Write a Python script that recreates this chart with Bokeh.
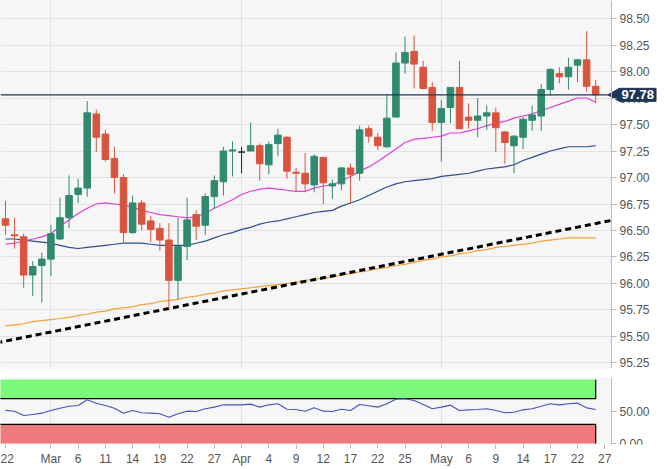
import math
import pandas as pd
from bokeh.plotting import figure
from bokeh.layouts import column
from bokeh.models import (ColumnDataSource, FixedTicker, PrintfTickFormatter, Grid,
                          Label, LinearAxis, BoxAnnotation)
from bokeh.embed import file_html
from bokeh.resources import INLINE

# daily candles, US dollar index, 2019-02-22 .. 2019-05-24 (weekdays)
start_day = "2019-02-22"
opens = [96.61, 96.46, 96.44, 96.08, 96.17, 96.23, 96.42, 96.62, 96.84, 96.90,
         97.60, 97.41, 97.18, 97.00, 96.48, 96.76, 96.59, 96.52, 96.41, 96.03,
         96.35, 96.65, 96.55, 96.82, 96.96, 97.25, 97.24, 97.25, 97.30, 97.12,
         97.32, 97.38, 97.05, 97.04, 96.93, 97.19, 96.92, 96.94, 97.09, 97.04,
         97.46, 97.38, 97.29, 97.57, 98.08, 98.19, 98.04, 97.85, 97.52, 97.66,
         97.85, 97.57, 97.54, 97.58, 97.61, 97.43, 97.30, 97.38, 97.54, 97.58,
         97.83, 97.98, 97.95, 98.06, 98.11, 97.86]
highs = [96.78, 96.62, 96.47, 96.21, 96.29, 96.55, 96.81, 97.02, 96.99, 97.72,
         97.64, 97.45, 97.29, 97.03, 96.83, 96.79, 96.64, 96.57, 96.57, 96.62,
         96.81, 96.69, 96.85, 97.02, 97.29, 97.34, 97.29, 97.52, 97.32, 97.34,
         97.46, 97.39, 97.09, 97.23, 97.22, 97.19, 96.98, 97.10, 97.13, 97.49,
         97.49, 97.42, 97.78, 98.18, 98.33, 98.34, 98.10, 97.90, 97.73, 97.85,
         98.10, 97.70, 97.75, 97.68, 97.66, 97.44, 97.40, 97.57, 97.68, 97.88,
         98.03, 98.04, 98.13, 98.12, 98.38, 97.92]
lows = [96.46, 96.33, 95.96, 95.88, 95.82, 96.07, 96.41, 96.52, 96.76, 96.82,
        97.24, 97.15, 96.85, 96.39, 96.47, 96.50, 96.39, 96.31, 95.76, 95.85,
        96.22, 96.41, 96.46, 96.71, 96.83, 97.01, 97.04, 97.25, 96.97, 97.03,
        97.20, 96.99, 96.86, 96.86, 96.86, 96.75, 96.80, 96.88, 96.75, 96.97,
        97.33, 97.26, 97.28, 97.57, 97.98, 97.84, 97.83, 97.44, 97.15, 97.51,
        97.46, 97.46, 97.38, 97.45, 97.24, 97.13, 97.04, 97.27, 97.44, 97.44,
        97.77, 97.89, 97.83, 97.90, 97.81, 97.70]
closes = [96.55, 96.45, 96.08, 96.16, 96.23, 96.47, 96.62, 96.83, 96.90, 97.61,
          97.38, 97.17, 97.00, 96.48, 96.76, 96.56, 96.51, 96.41, 96.03, 96.35,
          96.60, 96.54, 96.82, 96.97, 97.25, 97.26, 97.24, 97.30, 97.13, 97.31,
          97.40, 97.06, 97.04, 96.94, 97.20, 96.95, 96.94, 97.09, 97.03, 97.45,
          97.39, 97.30, 97.56, 98.08, 98.18, 98.07, 97.84, 97.52, 97.65, 97.85,
          97.46, 97.54, 97.58, 97.61, 97.47, 97.33, 97.39, 97.55, 97.59, 97.83,
          98.02, 97.95, 98.04, 98.11, 97.86, 97.78]

# moving averages as drawn on the chart
ma_fast = [96.37, 96.38, 96.40, 96.42, 96.44, 96.47, 96.54, 96.60, 96.66, 96.71,
           96.75, 96.76, 96.75, 96.74, 96.72, 96.69, 96.67, 96.65, 96.64, 96.63,
           96.62, 96.63, 96.66, 96.71, 96.75, 96.79, 96.84, 96.87, 96.89, 96.90,
           96.89, 96.88, 96.87, 96.87, 96.90, 96.92, 96.93, 96.97, 97.01, 97.06,
           97.10, 97.15, 97.21, 97.27, 97.33, 97.36, 97.37, 97.38, 97.39, 97.42,
           97.42, 97.44, 97.46, 97.49, 97.51, 97.53, 97.56, 97.58, 97.60, 97.63,
           97.66, 97.69, 97.72, 97.75, 97.75, 97.71]
ma_mid = [96.42, 96.42, 96.41, 96.40, 96.39, 96.38, 96.36, 96.34, 96.33, 96.34,
          96.35, 96.36, 96.37, 96.38, 96.38, 96.38, 96.37, 96.36, 96.36, 96.36,
          96.36, 96.38, 96.40, 96.43, 96.46, 96.48, 96.51, 96.53, 96.56, 96.58,
          96.59, 96.61, 96.63, 96.65, 96.67, 96.68, 96.69, 96.73, 96.76, 96.79,
          96.83, 96.87, 96.91, 96.94, 96.96, 96.97, 96.98, 96.99, 97.01, 97.02,
          97.03, 97.04, 97.06, 97.08, 97.09, 97.10, 97.12, 97.16, 97.19, 97.22,
          97.25, 97.27, 97.29, 97.29, 97.29, 97.30]
ma_slow = [95.60, 95.61, 95.62, 95.64, 95.65, 95.66, 95.67, 95.68, 95.70, 95.71,
           95.73, 95.74, 95.76, 95.77, 95.78, 95.80, 95.81, 95.83, 95.84, 95.85,
           95.87, 95.88, 95.90, 95.91, 95.93, 95.94, 95.95, 95.96, 95.97, 95.98,
           95.99, 96.00, 96.01, 96.03, 96.04, 96.05, 96.06, 96.08, 96.09, 96.11,
           96.12, 96.14, 96.15, 96.17, 96.18, 96.20, 96.22, 96.23, 96.25, 96.26,
           96.28, 96.29, 96.31, 96.32, 96.34, 96.35, 96.36, 96.37, 96.38, 96.40,
           96.41, 96.42, 96.43, 96.43, 96.43, 96.43]

rsi = [51.8, 50.5, 43.8, 45.3, 47.4, 51.6, 55.2, 58.3, 59.4, 68.2,
       63.0, 59.4, 55.2, 47.4, 51.6, 48.0, 47.4, 46.4, 41.1, 46.4,
       50.5, 50.0, 54.2, 56.8, 60.4, 60.4, 60.4, 61.5, 56.8, 60.4,
       62.0, 53.6, 53.1, 50.5, 55.7, 50.5, 50.0, 53.6, 51.6, 60.9,
       58.9, 56.8, 62.0, 69.3, 69.8, 67.2, 60.9, 54.2, 56.8, 59.9,
       51.6, 52.6, 53.1, 54.2, 51.6, 48.0, 48.9, 52.6, 54.2, 58.3,
       62.0, 60.4, 62.0, 63.0, 55.7, 53.1]

# hand-drawn support line (two anchors: trading-day index, price)
trend_x = [-1, 67]
trend_y = [95.44, 96.60]

tick_dates = ["2019-02-22", "2019-03-01", "2019-03-06", "2019-03-11", "2019-03-14",
              "2019-03-19", "2019-03-22", "2019-03-27", "2019-04-01", "2019-04-04",
              "2019-04-09", "2019-04-12", "2019-04-17", "2019-04-22", "2019-04-25",
              "2019-05-01", "2019-05-06", "2019-05-09", "2019-05-14", "2019-05-17",
              "2019-05-22", "2019-05-27"]
tick_labels = ["22", "Mar", "6", "11", "14", "19", "22", "27", "Apr", "4", "9", "12",
               "17", "22", "25", "May", "6", "9", "14", "17", "22", "27"]
month_starts = ["2019-03-01", "2019-04-01", "2019-05-01"]
price_ticks = [95.25, 95.50, 95.75, 96.00, 96.25, 96.50, 96.75, 97.00,
               97.25, 97.50, 97.75, 98.00, 98.25, 98.50]
rsi_ticks = [0, 50]
rsi_high = [70, 100]
rsi_low = [0, 30]

# trading-day calendar -> integer x positions
calendar = pd.bdate_range(start_day, tick_dates[-1])
xs = list(range(len(closes)))
tick_idx = [calendar.get_loc(pd.Timestamp(d)) for d in tick_dates]
month_idx = [calendar.get_loc(pd.Timestamp(d)) for d in month_starts]

UP = "#2f8a6f"
DOWN = "#d9543f"
FLAT = "#222222"
NAVY = "#1f3656"
BG = "#f6f6f6"
GRID = "#e2e2e2"
FONT = "Liberation Sans"
colors = [UP if c > o else (DOWN if c < o else FLAT) for o, c in zip(opens, closes)]

src = ColumnDataSource(data=dict(
    x=xs, high=highs, low=lows,
    top=[max(o, c) for o, c in zip(opens, closes)],
    bottom=[min(o, c) for o, c in zip(opens, closes)],
    color=colors))

# plotting area ends at `edge`; the price scale sits to the right of it, inside the frame
W = 665
PLOT_W = 611
x_start, edge = -0.55, 66.74
px_per_day = PLOT_W / (edge - x_start)
x_end = x_start + W / px_per_day


def style_axis(ax):
    ax.axis_line_color = "#bbbbbb"
    ax.major_tick_line_color = "#bbbbbb"
    ax.major_tick_in = 0
    ax.major_tick_out = 5
    ax.minor_tick_line_color = None
    ax.major_label_text_color = "#555555"
    ax.major_label_text_font = FONT
    ax.major_label_text_font_size = "12px"
    ax.major_label_standoff = 3


# ---- price panel
p = figure(width=W, height=372, x_range=(x_start, x_end), y_range=(95.198, 98.670),
           y_axis_location=None, x_axis_location=None,
           toolbar_location=None, output_backend="svg",
           min_border_left=0, min_border_top=0, min_border_bottom=4, min_border_right=0)
p.background_fill_color = "white"
p.border_fill_color = "white"
p.outline_line_color = None
p.add_layout(BoxAnnotation(right=edge, fill_color=BG, fill_alpha=1, line_color="#dddddd",
                           level="image"))
p.xgrid.visible = False
p.ygrid.visible = False
p.add_layout(Grid(dimension=1, ticker=FixedTicker(ticks=price_ticks), grid_line_color=GRID))
p.add_layout(Grid(dimension=0, ticker=FixedTicker(ticks=month_idx), grid_line_color=GRID))
p.add_layout(BoxAnnotation(left=edge, fill_color="white", fill_alpha=1, line_color=None,
                           level="underlay"))

price_axis = LinearAxis(fixed_location=edge, ticker=FixedTicker(ticks=price_ticks),
                        formatter=PrintfTickFormatter(format="%.2f"))
style_axis(price_axis)
p.add_layout(price_axis, "right")

slope = (trend_y[1] - trend_y[0]) / (trend_x[1] - trend_x[0])
trend_end = trend_y[0] + (edge - trend_x[0]) * slope

p.line(xs, ma_slow, color="#f0a23a", line_width=1.2)
p.line([trend_x[0], edge], [trend_y[0], trend_end], color="black", line_width=3, line_dash="6 4")
p.line(xs, ma_mid, color="#2b4f8c", line_width=1.2)
p.line(xs, ma_fast, color="#e040d8", line_width=1.2)

p.segment(x0="x", y0="low", x1="x", y1="high", color="color", line_width=1, source=src)
p.vbar(x="x", width=0.72, top="top", bottom="bottom", fill_color="color",
       line_color="color", line_width=1, source=src)

# last price line and tag
p.line([x_start, edge], [closes[-1], closes[-1]], color=NAVY, line_width=1.2)
p.scatter([edge + 4 / px_per_day], [closes[-1]], marker="triangle", size=13,
          angle=math.pi / 2, fill_color=NAVY, line_color=NAVY)
p.add_layout(Label(x=edge, y=closes[-1], x_offset=8, text="%.2f" % closes[-1],
                   text_color="white", text_font=FONT, text_font_style="bold",
                   text_font_size="13px", text_baseline="middle", text_align="left",
                   background_fill_color=NAVY, border_line_color=NAVY, padding=2))

# ---- RSI panel
r = figure(width=W, height=97, x_range=p.x_range, y_range=(-1.56, 103.1),
           y_axis_location=None, toolbar_location=None, output_backend="svg",
           min_border_left=0, min_border_top=5, min_border_bottom=25, min_border_right=0)
r.background_fill_color = "white"
r.border_fill_color = "white"
r.outline_line_color = None
r.add_layout(BoxAnnotation(right=edge, fill_color=BG, fill_alpha=1, line_color="#cfdce6",
                           level="image"))
r.ygrid.visible = False
r.xgrid.ticker = FixedTicker(ticks=month_idx)
r.xgrid.grid_line_color = GRID

last = xs[-1]
r.quad(left=x_start - 1, right=last, bottom=rsi_high[0], top=rsi_high[1],
       fill_color="#7cf97a", line_color=None)
r.quad(left=x_start - 1, right=last, bottom=rsi_low[0], top=rsi_low[1],
       fill_color="#ef7a7e", line_color=None)
r.segment(x0=[x_start - 1, last, x_start - 1, last],
          y0=[rsi_high[0], rsi_high[0], rsi_low[1], rsi_low[0]],
          x1=[last, last, last, last],
          y1=[rsi_high[0], rsi_high[1], rsi_low[1], rsi_low[1]],
          color="black", line_width=1.2)
r.line(xs, rsi, color="#4653b8", line_width=1.1)

rsi_axis = LinearAxis(fixed_location=edge, ticker=FixedTicker(ticks=rsi_ticks),
                      formatter=PrintfTickFormatter(format="%.2f"))
style_axis(rsi_axis)
r.add_layout(rsi_axis, "right")

r.xaxis.ticker = FixedTicker(ticks=tick_idx)
r.xaxis.major_label_overrides = {i: lab for i, lab in zip(tick_idx, tick_labels)}
style_axis(r.xaxis[0])
r.xaxis.major_tick_out = 4
r.xaxis.axis_line_color = None

layout = column(p, r)
open("out.html", "w").write(file_html(layout, INLINE))
